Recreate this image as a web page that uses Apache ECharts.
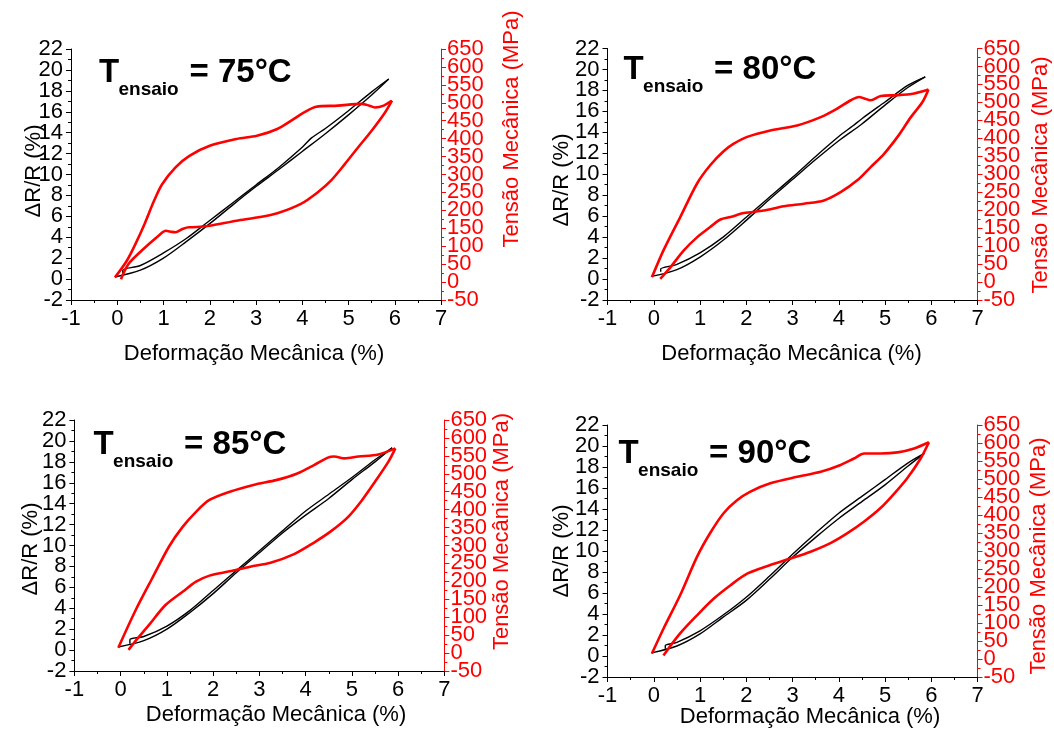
<!DOCTYPE html>
<html>
<head>
<meta charset="utf-8">
<script src="https://cdn.jsdelivr.net/npm/echarts@6/dist/echarts.min.js"></script>
<style>
  html, body { margin: 0; padding: 0; background: #fff; }
  #chart { width: 1054px; height: 732px; }
</style>
</head>
<body>
<div id="chart"></div>
<script>
// temperaturas de ensaio
var temps = ['75', '80', '85', '90'];

// eixos [min, max, intervalo]
var xTicks = [-1, 7, 1];
var drTicks = [-2, 22, 2];
var tenTicks = [-50, 650, 50];

// ΔR/R (%) x deformação (%) - ida e volta
var dr75_up = [[-0.05,0.2],[0.5,0.85],[1.0,2.0],[1.5,3.6],[2.0,5.3],[2.5,7.1],[3.0,8.85],[3.5,10.5],[4.0,12.2],[4.5,13.9],[5.0,15.7],[5.5,17.6],[5.87,19.13]];
var dr75_down = [[5.87,19.13],[5.5,17.9],[5.0,16.1],[4.5,14.4],[4.2,13.5],[4.0,12.6],[3.5,10.7],[3.0,9.0],[2.5,7.3],[2.0,5.6],[1.5,3.9],[1.0,2.5],[0.5,1.3],[0.12,0.85],[0.12,0.55]];
var dr80_up = [[-0.05,0.25],[0.5,0.9],[1.0,2.1],[1.5,3.7],[2.0,5.6],[2.5,7.6],[3.0,9.5],[3.5,11.4],[4.0,13.2],[4.5,14.8],[5.0,16.6],[5.5,18.3],[5.87,19.3]];
var dr80_down = [[5.87,19.3],[5.5,18.5],[5.0,16.9],[4.5,15.3],[4.3,14.6],[4.0,13.6],[3.5,11.7],[3.0,9.7],[2.5,7.8],[2.0,5.9],[1.5,4.0],[1.0,2.5],[0.5,1.4],[0.15,0.95],[0.15,0.7]];
var dr85_up = [[-0.05,0.3],[0.5,0.9],[1.0,2.0],[1.5,3.6],[2.0,5.4],[2.5,7.4],[3.0,9.3],[3.5,11.2],[4.0,12.9],[4.5,14.5],[5.0,16.3],[5.5,18.0],[5.87,19.35]];
var dr85_down = [[5.87,19.35],[5.5,18.2],[5.0,16.5],[4.5,14.9],[4.0,13.3],[3.5,11.4],[3.0,9.5],[2.5,7.6],[2.0,5.7],[1.5,3.8],[1.0,2.3],[0.5,1.3],[0.2,1.0],[0.2,0.6]];
var dr90_up = [[-0.05,0.3],[0.5,0.95],[1.0,2.1],[1.5,3.7],[2.0,5.3],[2.5,7.3],[3.0,9.4],[3.5,11.3],[4.0,13.1],[4.5,14.7],[5.0,16.3],[5.5,18.1],[5.85,19.3]];
var dr90_down = [[5.85,19.3],[5.5,18.4],[5.0,16.8],[4.5,15.2],[4.0,13.6],[3.5,11.7],[3.0,9.7],[2.5,7.6],[2.0,5.6],[1.5,3.9],[1.0,2.4],[0.5,1.3],[0.25,1.0],[0.25,0.7]];

// tensão (MPa) x deformação (%) - carregamento e descarregamento
var ten75_up = [[-0.05,13],[0.2,58],[0.4,108],[0.6,165],[0.8,228],[0.97,273],[1.26,320],[1.56,352],[2.0,380],[2.58,399],[3.02,408],[3.46,427],[3.82,455],[4.04,473],[4.3,489],[4.77,492],[5.28,497],[5.45,492],[5.57,487],[5.76,492],[5.94,506]];
var ten75_down = [[5.94,506],[5.79,473],[5.5,422],[5.21,376],[4.92,329],[4.62,283],[4.33,250],[3.97,218],[3.46,192],[3.02,180],[2.58,171],[2.0,157],[1.63,153],[1.55,153],[1.41,148],[1.26,139],[1.18,140],[1.05,143],[0.9,130],[0.53,88],[0.24,50],[0.08,8]];
var ten80_up = [[-0.04,13],[0.21,88],[0.57,180],[0.94,275],[1.22,325],[1.51,364],[1.73,385],[2.02,404],[2.52,422],[3.1,436],[3.61,459],[3.97,483],[4.26,506],[4.44,515],[4.55,511],[4.69,506],[4.91,518],[5.27,520],[5.63,525],[5.94,536]];
var ten80_down = [[5.94,536],[5.81,501],[5.56,459],[5.27,404],[4.98,357],[4.69,320],[4.4,283],[4.04,250],[3.68,227],[3.25,218],[2.81,211],[2.38,199],[1.95,192],[1.66,181],[1.44,174],[1.22,153],[0.94,125],[0.65,88],[0.36,41],[0.14,9]];
var ten85_up = [[-0.05,15],[0.31,116],[0.68,208],[1.05,298],[1.34,352],[1.63,394],[1.92,427],[2.36,450],[2.87,469],[3.38,483],[3.82,501],[4.19,525],[4.48,545],[4.62,548],[4.84,543],[5.14,548],[5.57,554],[5.94,571]];
var ten85_down = [[5.94,571],[5.79,534],[5.5,478],[5.21,425],[4.92,380],[4.55,340],[4.19,309],[3.75,276],[3.24,252],[2.8,241],[2.36,228],[1.92,216],[1.63,199],[1.34,171],[0.97,134],[0.61,78],[0.31,32],[0.17,9]];
var ten90_up = [[-0.04,15],[0.21,84],[0.57,177],[0.94,285],[1.22,350],[1.51,405],[1.8,441],[2.09,465],[2.52,488],[3.1,506],[3.61,520],[4.04,539],[4.33,557],[4.55,571],[4.91,571],[5.27,574],[5.63,585],[5.95,602]];
var ten90_down = [[5.95,602],[5.77,557],[5.48,502],[5.19,458],[4.91,420],[4.55,382],[4.18,349],[3.82,322],[3.39,298],[2.96,279],[2.52,261],[2.02,237],[1.66,205],[1.3,168],[0.94,122],[0.57,71],[0.21,10]];

var drData = [[dr75_up, dr75_down], [dr80_up, dr80_down], [dr85_up, dr85_down], [dr90_up, dr90_down]];
var tenData = [[ten75_up, ten75_down], [ten80_up, ten80_down], [ten85_up, ten85_down], [ten90_up, ten90_down]];

// layout de cada painel
var grids = [
    {left: 71, top: 49, width: 370, height: 251},
    {left: 607.5, top: 48.5, width: 370, height: 251.5},
    {left: 74.4, top: 420, width: 370, height: 251},
    {left: 607.5, top: 425, width: 370, height: 252}
];
// centros dos titulos: esquerdo, direito, x
var titlePos = [
    [[34, 171], [512, 129], [254, 354]],
    [[562, 180], [1041, 175], [791.5, 354]],
    [[30.5, 549], [502, 531.5], [276, 715]],
    [[562, 551], [1038.5, 556], [810, 717]]
];
// anotação T_ensaio: x, centro do "T", centro do subscrito
var notePos = [[99, 72.5, 89.4], [623.6, 69.6, 86.6], [93.6, 445, 462], [618.6, 454.4, 471]];

var FONT = 'Arial, "Liberation Sans", sans-serif';
var RED = '#ff0000';

function axisStyle(color) {
    return {
        axisLine: {show: true, onZero: false, lineStyle: {color: color, width: 1}},
        axisTick: {show: true, length: 5, lineStyle: {color: color}},
        minorTick: {show: true, splitNumber: 2, length: 3, lineStyle: {color: color}},
        splitLine: {show: false},
        minorSplitLine: {show: false},
        axisLabel: {color: color, fontSize: 22, fontFamily: FONT}
    };
}

// os rotulos do eixo y ficam muito juntos e o echarts esconde alguns;
// por isso cada eixo y e desenhado duas vezes, cada um com metade dos rotulos
function makeYAxes(i, ticks, pos, color, margin) {
    var axes = [];
    [0, 1].forEach(function (k) {
        var a = axisStyle(color);
        a.gridIndex = i; a.type = 'value'; a.position = pos;
        a.min = ticks[0]; a.max = ticks[1]; a.interval = ticks[2];
        a.axisLabel.margin = margin;
        a.axisLabel.formatter = function (v) {
            return Math.round((v - ticks[0]) / ticks[2]) % 2 === k ? String(v) : '';
        };
        a.axisLabel.showMinLabel = k === 0;
        a.axisLabel.showMaxLabel = k === 0;
        if (k === 1) {
            a.axisLine.show = false;
            a.axisTick.show = false;
            a.minorTick.show = false;
        }
        axes.push(a);
    });
    return axes;
}

var option = {
    animation: false,
    backgroundColor: '#fff',
    grid: [], xAxis: [], yAxis: [], series: [], graphic: []
};

temps.forEach(function (t, i) {
    var g = grids[i];
    option.grid.push({left: g.left, top: g.top, width: g.width, height: g.height, outerBoundsMode: 'none'});

    var xa = axisStyle('#000');
    xa.gridIndex = i; xa.type = 'value';
    xa.min = xTicks[0]; xa.max = xTicks[1]; xa.interval = xTicks[2];
    xa.axisLabel.margin = 8;
    option.xAxis.push(xa);

    var base = option.yAxis.length;
    option.yAxis = option.yAxis.concat(makeYAxes(i, drTicks, 'left', '#000', 8));
    option.yAxis = option.yAxis.concat(makeYAxes(i, tenTicks, 'right', RED, 6));

    drData[i].forEach(function (d) {
        option.series.push({
            type: 'line', xAxisIndex: i, yAxisIndex: base, data: d,
            showSymbol: false, smooth: 0.3, lineStyle: {color: '#000', width: 1.4}
        });
    });
    tenData[i].forEach(function (d) {
        option.series.push({
            type: 'line', xAxisIndex: i, yAxisIndex: base + 2, data: d,
            showSymbol: false, smooth: 0.3, lineStyle: {color: RED, width: 2.6}
        });
    });

    var p = titlePos[i];
    option.graphic.push(makeText(p[0][0], p[0][1], 'ΔR/R (%)', 22, '#000', 'normal', Math.PI / 2));
    option.graphic.push(makeText(p[1][0], p[1][1], 'Tensão Mecânica (MPa)', 22, RED, 'normal', Math.PI / 2));
    option.graphic.push(makeText(p[2][0], p[2][1], 'Deformação Mecânica (%)', 22, '#000'));

    var n = notePos[i];
    option.graphic.push(makeText(n[0], n[1], 'T', 33, '#000', 'bold', 0, 'left'));
    option.graphic.push(makeText(n[0] + 19.5, n[2], 'ensaio', 19, '#000', 'bold', 0, 'left'));
    option.graphic.push(makeText(n[0] + 90.5, n[1], '= ' + t + '°C', 33, '#000', 'bold', 0, 'left'));
});

function makeText(x, y, text, size, color, weight, rot, align) {
    return {
        type: 'text', x: x, y: y, rotation: rot || 0,
        style: {
            text: text, fontSize: size, fontFamily: FONT, fontWeight: weight || 'normal',
            fill: color, align: align || 'center', textAlign: align || 'center',
            verticalAlign: 'middle', textVerticalAlign: 'middle'
        }
    };
}

var chart = echarts.init(document.getElementById('chart'));
chart.setOption(option);
</script>
</body>
</html>
